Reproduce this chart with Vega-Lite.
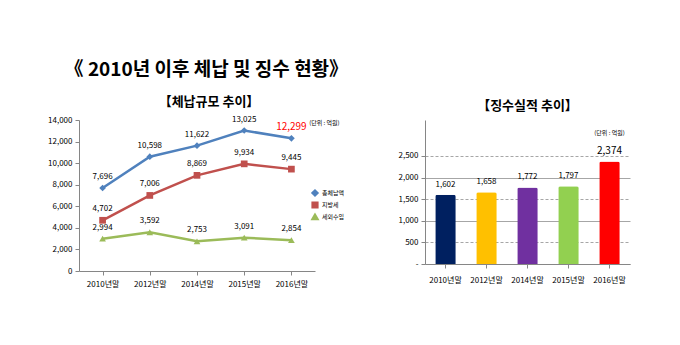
{
  "$schema": "https://vega.github.io/schema/vega-lite/v6.json",
  "background": "white",
  "padding": {"left": 47, "top": 60, "right": 5, "bottom": 5},
  "title": {"text": "《 2010년 이후 체납 및 징수 현황》", "anchor": "start", "fontSize": 19, "fontWeight": "bold", "font": "Noto Sans CJK KR", "color": "#000000", "dx": 17, "offset": 16},
  "config": {
    "font": "Noto Sans CJK KR",
    "view": {"stroke": null},
    "axis": {"labelFont": "Noto Sans CJK KR", "labelFontSize": 8, "labelColor": "#000000", "domainColor": "#868686", "tickColor": "#868686", "tickSize": 4, "labelPadding": 3}
  },
  "spacing": 58,
  "hconcat": [
    {
      "width": 236,
      "height": 151,
      "title": {"text": "【체납규모 추이】", "fontSize": 13, "fontWeight": "bold", "color": "#000000", "offset": 7, "dx": 12},
      "data": {"values": [
        {"year": "2010년말", "series": "총체납액", "value": 7696},
        {"year": "2012년말", "series": "총체납액", "value": 10598},
        {"year": "2014년말", "series": "총체납액", "value": 11622},
        {"year": "2015년말", "series": "총체납액", "value": 13025},
        {"year": "2016년말", "series": "총체납액", "value": 12299},
        {"year": "2010년말", "series": "지방세", "value": 4702},
        {"year": "2012년말", "series": "지방세", "value": 7006},
        {"year": "2014년말", "series": "지방세", "value": 8869},
        {"year": "2015년말", "series": "지방세", "value": 9934},
        {"year": "2016년말", "series": "지방세", "value": 9445},
        {"year": "2010년말", "series": "세외수입", "value": 2994},
        {"year": "2012년말", "series": "세외수입", "value": 3592},
        {"year": "2014년말", "series": "세외수입", "value": 2753},
        {"year": "2015년말", "series": "세외수입", "value": 3091},
        {"year": "2016년말", "series": "세외수입", "value": 2854}
      ]},
      "encoding": {
        "x": {"field": "year", "type": "ordinal", "scale": {"type": "point", "padding": 0.5}, "axis": {"title": null, "labelAngle": 0, "labelPadding": 5}},
        "y": {"field": "value", "type": "quantitative", "scale": {"domain": [0, 14000], "nice": false}, "axis": {"title": null, "values": [0, 2000, 4000, 6000, 8000, 10000, 12000, 14000], "labelExpr": "format(datum.value, ',')", "grid": false}}
      },
      "layer": [
        {
          "mark": {"type": "line", "strokeWidth": 2.5},
          "encoding": {
            "color": {"field": "series", "type": "nominal", "sort": ["총체납액", "지방세", "세외수입"], "scale": {"domain": ["총체납액", "지방세", "세외수입"], "range": ["#4F81BD", "#C0504D", "#9BBB59"]},
              "legend": {"title": null, "orient": "none", "legendX": 232, "legendY": 69, "labelFontSize": 6, "symbolSize": 22, "rowPadding": -4, "labelOffset": 3, "symbolStrokeWidth": 2.5}}
          }
        },
        {
          "mark": {"type": "point", "filled": true, "size": 45, "opacity": 1},
          "encoding": {
            "color": {"field": "series", "type": "nominal", "scale": {"domain": ["총체납액", "지방세", "세외수입"], "range": ["#4F81BD", "#C0504D", "#9BBB59"]}, "legend": null},
            "shape": {"field": "series", "type": "nominal", "scale": {"domain": ["총체납액", "지방세", "세외수입"], "range": ["diamond", "square", "triangle-up"]}, "legend": null}
          }
        },
        {
          "mark": {"type": "text", "dy": -11, "fontSize": 8},
          "encoding": {
            "text": {"field": "value", "type": "quantitative", "format": ","},
            "color": {"condition": {"test": "datum.value === 12299", "value": "#FF0000"}, "value": "#000000"},
            "size": {"condition": {"test": "datum.value === 12299", "value": 10}, "value": 8},
            "fontWeight": {"condition": {"test": "datum.value === 12299", "value": "bold"}, "value": "normal"}
          }
        },
        {
          "data": {"values": [{"year": "2016년말", "value": 14000, "note": "(단위 : 억원)"}]},
          "mark": {"type": "text", "fontSize": 6, "dx": 33, "dy": 3, "color": "#000000"},
          "encoding": {
            "text": {"field": "note", "type": "nominal"}
          }
        }
      ]
    },
    {
      "width": 205,
      "height": 144,
      "title": {"text": "【징수실적 추이】", "fontSize": 13, "fontWeight": "bold", "color": "#000000", "offset": 7},
      "data": {"values": [
        {"year": "2010년말", "value": 1602},
        {"year": "2012년말", "value": 1658},
        {"year": "2014년말", "value": 1772},
        {"year": "2015년말", "value": 1797},
        {"year": "2016년말", "value": 2374}
      ]},
      "encoding": {
        "x": {"field": "year", "type": "ordinal", "scale": {"paddingInner": 0.5, "paddingOuter": 0.25}, "axis": {"title": null, "labelAngle": 0, "labelPadding": 8}},
        "y": {"field": "value", "type": "quantitative", "scale": {"domain": [0, 3333], "nice": false}, "axis": {"title": null, "values": [0, 500, 1000, 1500, 2000, 2500], "labelExpr": "datum.value === 0 ? '-' : format(datum.value, ',')", "grid": true, "gridColor": "#A6A6A6", "gridDash": {"condition": {"test": "datum.value % 1000 === 500", "value": [3, 2]}, "value": []}}}
      },
      "layer": [
        {
          "mark": {"type": "bar", "cornerRadiusTopLeft": 2, "cornerRadiusTopRight": 2},
          "encoding": {
            "fill": {"field": "year", "type": "nominal", "scale": {"domain": ["2010년말", "2012년말", "2014년말", "2015년말", "2016년말"], "range": ["#002060", "#FFC000", "#7030A0", "#92D050", "#FF0000"]}, "legend": null}
          }
        },
        {
          "mark": {"type": "text", "dy": -10, "fontSize": 8, "color": "#000000"},
          "encoding": {
            "text": {"field": "value", "type": "quantitative", "format": ","},
            "size": {"condition": {"test": "datum.value === 2374", "value": 10}, "value": 8},
            "fontWeight": {"condition": {"test": "datum.value === 2374", "value": "bold"}, "value": "normal"}
          }
        },
        {
          "data": {"values": [{"year": "2016년말", "value": 2750, "note": "(단위 : 억원)"}]},
          "mark": {"type": "text", "fontSize": 6, "dy": -12, "color": "#000000"},
          "encoding": {
            "text": {"field": "note", "type": "nominal"}
          }
        }
      ]
    }
  ]
}
